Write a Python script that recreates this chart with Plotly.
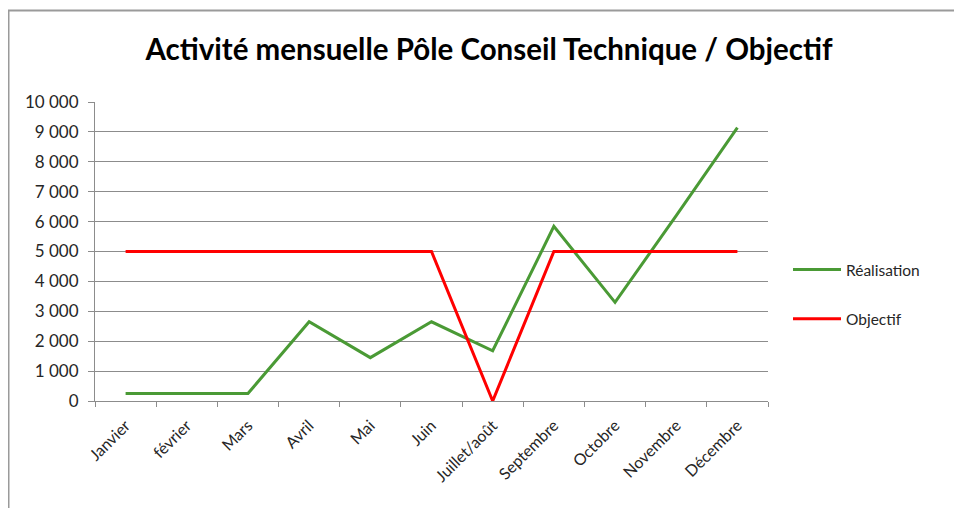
import plotly.graph_objects as go

mois = ["Janvier", "février", "Mars", "Avril", "Mai", "Juin", "Juillet/août",
        "Septembre", "Octobre", "Novembre", "Décembre"]
realisation = [250, 250, 250, 2650, 1450, 2650, 1680, 5840, 3300, 6200, 9140]
objectif = [5000, 5000, 5000, 5000, 5000, 5000, 0, 5000, 5000, 5000, 5000]
y_ticks = [0, 1000, 2000, 3000, 4000, 5000, 6000, 7000, 8000, 9000, 10000]

W, H = 962, 508
OFF = 8  # page body offset
L, T = 95 - OFF, 102 - OFF
R = W - (768 - OFF)
B = H - (401 - OFF)
pw, ph = W - L - R, H - T - B

fig = go.Figure()
fig.add_trace(go.Scatter(x=mois, y=realisation, mode="lines", name="Réalisation",
                         legendgroup="a", line=dict(color="#4a9a35", width=3)))
fig.add_trace(go.Scatter(x=mois, y=objectif, mode="lines", name="Objectif",
                         legendgroup="b", line=dict(color="#ff0000", width=3)))

grid = "#8c8c8c"
fig.update_layout(
    width=W, height=H,
    margin=dict(l=L, r=R, t=T, b=B, autoexpand=False),
    paper_bgcolor="white", plot_bgcolor="white",
    separators=", ",
    font=dict(family="Lato, Liberation Sans, sans-serif", size=15, color="#262626"),
    title=dict(text="<b>Activité mensuelle Pôle Conseil Technique / Objectif</b>",
               x=0.5, xref="container", xanchor="center", y=1 - 42 / H, yanchor="middle",
               font=dict(size=29.5, color="black")),
    showlegend=True,
    legend=dict(x=(788 - OFF - L) / pw, xanchor="left", y=1 - (253 - OFF - T) / ph, yanchor="top",
                tracegroupgap=26, itemwidth=48, font=dict(size=15.5, color="#262626"),
                bgcolor="rgba(0,0,0,0)"),
    xaxis=dict(type="category", showgrid=False, showline=True, linecolor=grid, linewidth=1,
               ticks="outside", tickson="boundaries", ticklen=5, tickcolor=grid,
               tickangle=-45, tickfont=dict(size=16), ticklabelstandoff=8,
               range=[-0.5, 10.5]),
    yaxis=dict(range=[0, 10000], tickvals=y_ticks, tickformat=",d", showgrid=True,
               gridcolor=grid, gridwidth=1, showline=True, linecolor=grid, linewidth=1,
               ticks="outside", ticklen=6, tickcolor=grid, zeroline=False,
               tickfont=dict(size=17), ticklabelstandoff=6),
    shapes=[dict(type="rect", xref="paper", yref="paper",
                 x0=(0.5 - L) / pw, x1=(1000 - L) / pw,
                 y0=-(560 - (H - B)) / ph, y1=1 + (T - (10.5 - OFF)) / ph,
                 line=dict(color="#9a9a9a", width=2), fillcolor="rgba(0,0,0,0)",
                 layer="below")],
)

fig.write_html("out.html")
